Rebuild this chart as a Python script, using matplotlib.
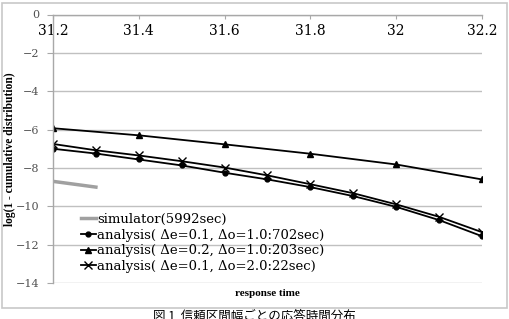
import matplotlib
matplotlib.use("Agg")
import matplotlib.pyplot as plt
from matplotlib.patches import Rectangle

plt.rcParams['font.family'] = ['DejaVu Serif', 'Noto Sans CJK JP']

x_fine = [31.2, 31.3, 31.4, 31.5, 31.6, 31.7, 31.8, 31.9, 32.0, 32.1, 32.2]
x_coarse = [31.2, 31.4, 31.6, 31.8, 32.0, 32.2]
x_sim = [31.2, 31.3]

sim_vals = [-8.7, -9.0]
a1_vals = [-7.0, -7.25, -7.56, -7.87, -8.25, -8.6, -9.0, -9.47, -10.03, -10.72, -11.56]
a2_vals = [-5.93, -6.3, -6.77, -7.26, -7.82, -8.6]
a3_vals = [-6.75, -7.08, -7.35, -7.65, -7.98, -8.39, -8.85, -9.32, -9.9, -10.55, -11.35]

labels = ["simulator(5992sec)",
          "analysis( Δe=0.1, Δo=1.0:702sec)",
          "analysis( Δe=0.2, Δo=1.0:203sec)",
          "analysis( Δe=0.1, Δo=2.0:22sec)"]
xticks = [31.2, 31.4, 31.6, 31.8, 32.0, 32.2]
xticklabels = ["31.2", "31.4", "31.6", "31.8", "32", "32.2"]
yticks = [0, -2, -4, -6, -8, -10, -12, -14]
yticklabels = ["0", "−2", "−4", "−6", "−8", "−10", "−12", "−14"]

fig = plt.figure(figsize=(5.09, 3.19), dpi=100)
fig.patches.append(Rectangle((2/509, 1 - 308/319), 505/509, 305/319,
                             transform=fig.transFigure, fill=False,
                             edgecolor='#c8c8c8', linewidth=1.2))
ax = fig.add_axes([53/509, 1 - 283/319, 429/509, 268.5/319])

ax.plot(x_sim, sim_vals, color='#a0a0a0', linewidth=2.5, label=labels[0])
ax.plot(x_fine, a1_vals, color='black', linewidth=1.3, marker='o', markersize=3.5, label=labels[1])
ax.plot(x_coarse, a2_vals, color='black', linewidth=1.3, marker='^', markersize=5, label=labels[2])
ax.plot(x_fine, a3_vals, color='black', linewidth=1.3, marker='x', markersize=6, mew=1, label=labels[3])

ax.set_xlim(31.2, 32.2)
ax.set_ylim(-14, 0)
ax.set_yticks(yticks)
ax.set_yticklabels(yticklabels, fontsize=8, color='#505050')
ax.set_xticks(xticks)
ax.set_xticklabels(xticklabels, fontsize=8, color='#505050')
ax.spines['bottom'].set_position(('data', 0))
ax.spines['right'].set_visible(False)
ax.spines['top'].set_visible(False)
for s in ['bottom', 'left']:
    ax.spines[s].set_color('#a8a8a8')
    ax.spines[s].set_linewidth(1)
ax.tick_params(axis='x', direction='out', length=3, color='#a8a8a8', pad=4)
ax.tick_params(axis='y', direction='out', length=4, color='#a8a8a8', pad=6)
ax.grid(axis='y', color='#c0c0c0', linewidth=1)
ax.set_axisbelow(True)

ax.set_ylabel("log(1 - cumulative distribution)", fontsize=8.3, fontweight='bold',
              family='Liberation Serif')
ax.yaxis.set_label_coords(-37/429, 0.5)
ax.text(0.5, -10/268.5, "response time", transform=ax.transAxes, ha='center', va='center',
        fontsize=8, fontweight='bold', family='Liberation Serif')

ax.legend(loc='lower left', bbox_to_anchor=(28/429, 10/268.5), frameon=False, fontsize=9.5,
          handlelength=1.1, handletextpad=0.1, labelspacing=0.2, borderaxespad=0, borderpad=0)

fig.text(0.5, 1 - 316/319, "図 1  信頼区間幅ごとの応答時間分布", ha='center', va='center',
         fontsize=9, family=['Noto Sans CJK JP'])

fig.savefig("out.png", dpi=100)
